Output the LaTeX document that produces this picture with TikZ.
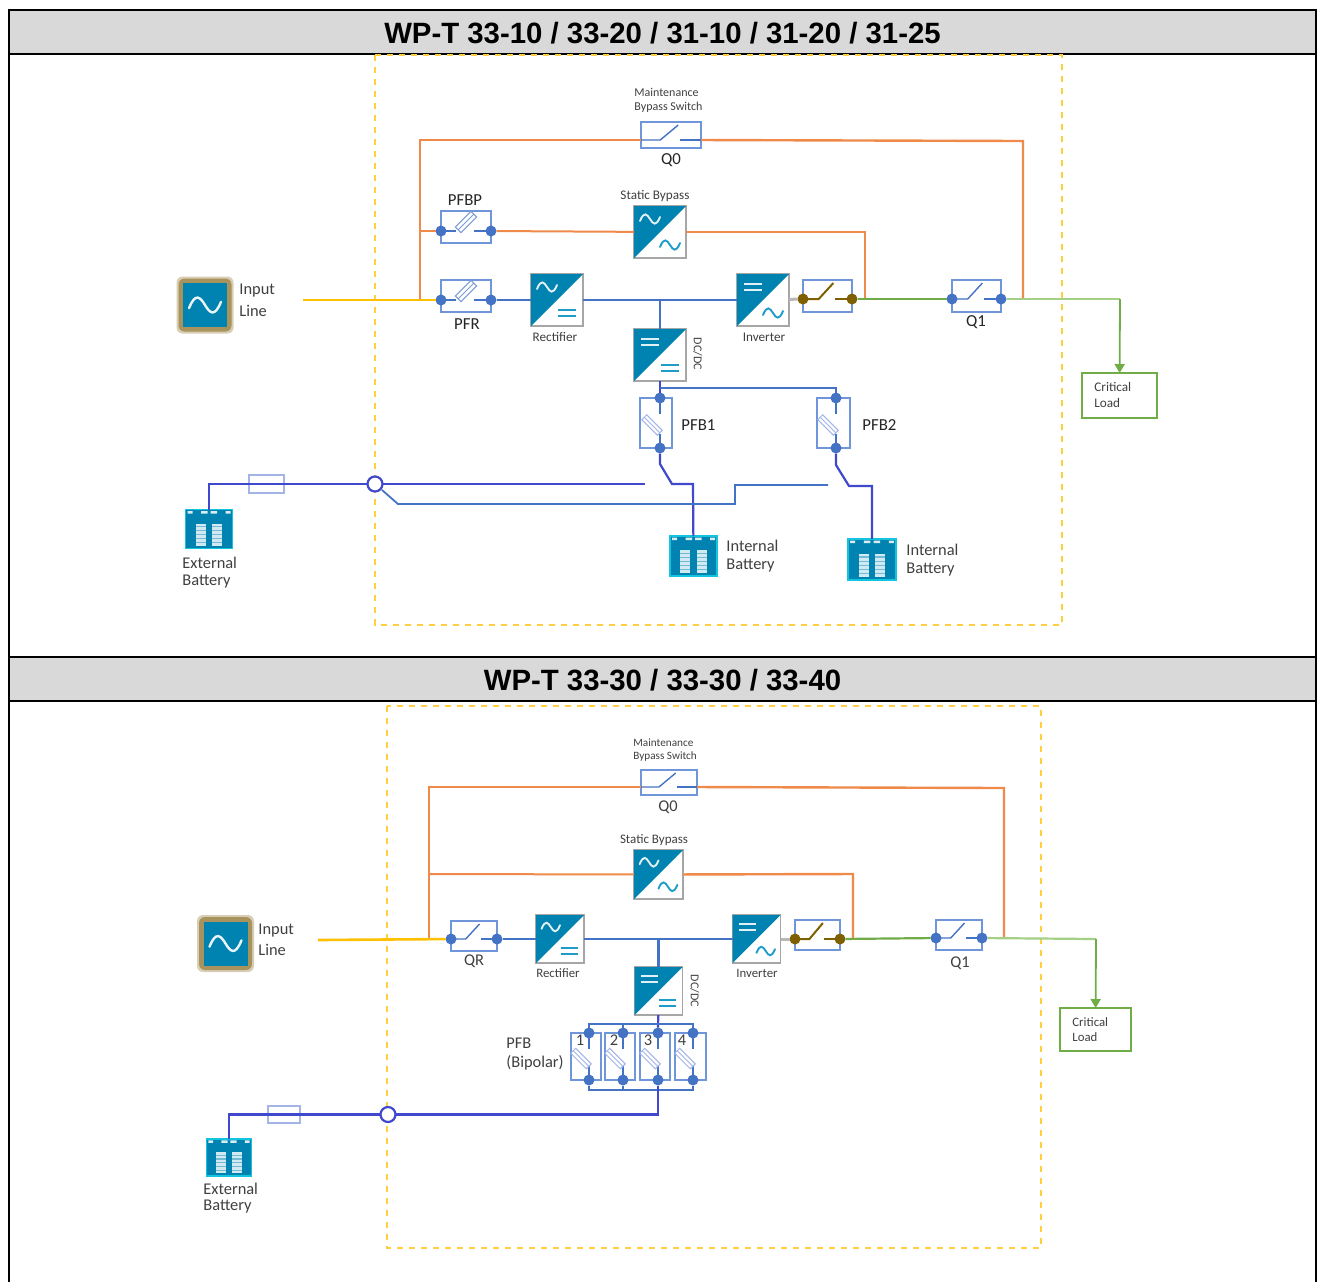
\documentclass[tikz,border=0pt]{standalone}
\usepackage{fontspec}
\setmainfont{Carlito}
\newfontfamily\hdrfont{Liberation Sans}
\usetikzlibrary{arrows.meta,calc}
\definecolor{ubl}{HTML}{0083B0}
\definecolor{ubl2}{HTML}{1F9CC8}
\definecolor{wire}{HTML}{4472C4}
\definecolor{batw}{HTML}{4048CC}
\definecolor{boxc}{HTML}{6F95DB}
\definecolor{fusec}{HTML}{A3B5E8}
\definecolor{orng}{HTML}{EF8A4A}
\definecolor{yel}{HTML}{FFC000}
\definecolor{zonec}{HTML}{FFCF40}
\definecolor{grn}{HTML}{70AD47}
\definecolor{lgrn}{HTML}{A5CF85}
\definecolor{brwn}{HTML}{7F6000}
\definecolor{txt}{HTML}{404040}
\definecolor{hdr}{HTML}{D9D9D9}
\definecolor{tan}{HTML}{A8935C}
\tikzset{
  hdrband/.style={draw=black,line width=0.8pt,fill=hdr,inner sep=0pt,outer sep=0pt},
  title/.style={inner sep=0pt,font=\hdrfont\bfseries\fontsize{14.68}{15}\selectfont,text=black},
  zone/.style={draw=zonec,line width=0.75pt,dash pattern=on 3.2pt off 2.8pt},
  lbl/.style={inner sep=0pt,text=txt,text height=6pt,text depth=2pt,font=\fontsize{8.2}{9}\selectfont},
  lbll/.style={lbl,anchor=west},
  sml/.style={inner sep=0pt,text=txt,text height=4.6pt,text depth=1.4pt,font=\fontsize{6}{7}\selectfont},
  smll/.style={sml,anchor=west},
  dkl/.style={inner sep=0pt,text=black!85,text height=6pt,text depth=2pt,font=\fontsize{8.4}{9}\selectfont},
  dkll/.style={dkl,anchor=west},
  swbox/.style={draw=boxc,line width=0.8pt,inner sep=0pt,outer sep=0pt,fill=white},
  bdot/.style={circle,fill=wire,inner sep=0pt,minimum size=5.5pt,outer sep=0pt},
  hdot/.style={circle,fill=brwn,inner sep=0pt,minimum size=5.5pt,outer sep=0pt},
  nodot/.style={inner sep=0pt,minimum size=0pt,outer sep=0pt},
  blade/.style={line width=0.7pt,draw=wire},
  hblade/.style={line width=1pt,draw=brwn},
  fuseb/.style={line width=0.5pt,draw=fusec},
  cvtbox/.style={draw=black!35,line width=0.7pt,fill=white,inner sep=0pt,outer sep=0pt},
  batbox/.style={draw=ubl2!60!cyan,line width=0.6pt,fill=ubl,inner sep=0pt,outer sep=0pt},
  busw/.style={draw=wire,line width=1.1pt},
  busn/.style={draw=wire,line width=0.9pt},
  batt/.style={draw=batw,line width=1.1pt},
  orw/.style={draw=orng,line width=1.2pt},
  orn/.style={draw=orng,line width=1pt},
  yw/.style={draw=yel,line width=1.3pt},
  gw/.style={draw=grn,line width=1.1pt},
  lgw/.style={draw=lgrn,line width=1.1pt},
  ringn/.style={circle,draw=batw,line width=1.1pt,fill=white,inner sep=0pt,minimum size=7.5pt,outer sep=0pt},
  fusebox/.style={draw=fusec,line width=0.6pt,inner sep=0pt,outer sep=0pt},
  loadbox/.style={draw=grn,line width=0.9pt,fill=white,inner sep=0pt,outer sep=0pt},
  srctan/.style={fill=tan,rounded corners=3pt,inner sep=0pt,outer sep=0pt},
  srcblue/.style={fill=ubl,inner sep=0pt,outer sep=0pt}
}
% symbols in a local frame
\newcommand{\symwave}[3]{\draw[#3,line width=0.95pt,line cap=round,shift={(#1,#2)}] (-10,2) .. controls (-6,-8) and (-3,-5) .. (0,0) .. controls (3,5) and (6,8) .. (10,-2);}
\newcommand{\symeq}[3]{\draw[#3,line width=1.15pt,shift={(#1,#2)}] (-9,-3) -- (9,-3) (-9,3) -- (9,3);}
% converter: name cx cy size top bottom
\newcommand{\cvt}[6]{%
  \node[cvtbox,minimum width={#4*0.5pt},minimum height={#4*0.5pt}] (#1) at (#2,#3) {};
  \begin{scope}[shift={(#2,#3)},scale={#4/52}]
    \fill[ubl] (-26,-26) -- (26,-26) -- (-26,26) -- cycle;
    \csname sym#5\endcsname{-10}{-13}{white!88!ubl}
    \csname sym#6\endcsname{10}{13}{ubl2}
  \end{scope}}
% switch: name x1 y1 x2 y2 wirey dotstyle bladestyle
\newcommand{\swb}[8]{%
  \node[swbox,minimum width={(#4-#2)*0.5pt},minimum height={(#5-#3)*0.5pt}] (#1) at ({(#2+#4)/2},{(#3+#5)/2}) {};
  \node[#7] (#1-l) at (#2,#6) {};
  \node[#7] (#1-r) at (#4,#6) {};
  \draw[#8] (#2,#6) -- ({#2+0.32*(#4-#2)},#6) -- ({#2+0.62*(#4-#2)},#3+3);
  \draw[#8] ({#2+0.65*(#4-#2)},#6) -- (#4,#6);}
% fuse switch horizontal: name x1 y1 x2 y2 wirey
\newcommand{\fsw}[6]{%
  \node[swbox,minimum width={(#4-#2)*0.5pt},minimum height={(#5-#3)*0.5pt}] (#1) at ({(#2+#4)/2},{(#3+#5)/2}) {};
  \node[bdot] (#1-l) at (#2,#6) {};
  \node[bdot] (#1-r) at (#4,#6) {};
  \draw[blade] (#2,#6) -- ({#2+0.30*(#4-#2)},#6);
  \draw[blade] ({#2+0.65*(#4-#2)},#6) -- (#4,#6);
  \begin{scope}[shift={({(#2+#4)/2},{#6-9})},rotate=45]
    \draw[fuseb,draw=wire!70] (-11,-4) rectangle (11,4);
    \draw[fuseb,draw=wire!70] (-11,0) -- (11,0);
  \end{scope}}
% fuse switch vertical: name x1 y1 x2 y2 wirex
\newcommand{\vfsw}[6]{%
  \node[swbox,minimum width={(#4-#2)*0.5pt},minimum height={(#5-#3)*0.5pt}] (#1) at ({(#2+#4)/2},{(#3+#5)/2}) {};
  \node[bdot] (#1-t) at (#6,#3) {};
  \node[bdot] (#1-b) at (#6,#5) {};
  \draw[blade] (#6,#3) -- (#6,#3+16);
  \draw[blade] (#6,#5) -- (#6,#5-14);
  \begin{scope}[shift={(#6-8,{(#3+#5)/2+2})},rotate=-45]
    \draw[fuseb] (-11,-3.5) rectangle (11,3.5);
    \draw[fuseb] (-11,0) -- (11,0);
  \end{scope}}
% battery: name cx cy w h
\newcommand{\bat}[5]{%
  \node[batbox,minimum width={#4*0.5pt},minimum height={#5*0.5pt}] (#1) at (#2,#3) {};
  \begin{scope}[shift={(#2,#3)},xscale={#4/47},yscale={#5/39}]
    \fill[white!85!ubl] (-21.5,-18) rectangle (-16.5,-15.5) (-8,-18) rectangle (-1.5,-15.5) (1.5,-18) rectangle (8,-15.5) (16.5,-18) rectangle (21.5,-15.5);
    \foreach \cx in {-8.2,8.2}{
      \fill[white!45!ubl] (\cx-5,-5.5) rectangle (\cx+5,16.6);
      \foreach \sy in {-5.5,-1.6,2.3,6.2,10.1,14}{
        \fill[white!82!ubl] (\cx-5,\sy) rectangle (\cx+5,\sy+2.6);
      }}
  \end{scope}}
% source: name cx cy
\newcommand{\src}[3]{%
  \node[srctan,opacity=0.45,minimum width=28.5pt,minimum height=28.5pt] (#1-g) at (#2,#3) {};
  \node[srctan,minimum width=26.5pt,minimum height=26.5pt] (#1) at (#2,#3) {};
  \node[srcblue,minimum width=22pt,minimum height=22pt] (#1-i) at (#2,#3) {};
  \begin{scope}[shift={(#2,#3)},scale=1.6]
    \draw[white!92!ubl,line width=1.2pt,line cap=round] (-10,2) .. controls (-6,-8) and (-3,-5) .. (0,0) .. controls (3,5) and (6,8) .. (10,-2);
  \end{scope}}
\begin{document}
\begin{tikzpicture}[x=0.5pt,y=-0.5pt]
\useasboundingbox (0,0) rectangle (1317,1282);
\fill[white] (0,0) rectangle (1317,1282);
% frame
\node[hdrband,minimum width=653.5pt,minimum height=22pt] (hdrA) at (662.5,32) {};
\node[hdrband,minimum width=653.5pt,minimum height=22pt] (hdrB) at (662.5,679) {};
\node[title] (titleA) at (662.5,33) {WP-T 33-10 / 33-20 / 31-10 / 31-20 / 31-25};
\node[title] (titleB) at (662.5,680) {WP-T 33-30 / 33-30 / 33-40};
\coordinate (fl) at (9,1282); \coordinate (fr) at (1316,1282);
\draw[black,line width=0.8pt] (hdrA.north west) -- (fl) (hdrA.north east) -- (fr);
% zones
\draw[zone] (375,55) rectangle (1062,625);
\draw[zone] (387,706) rectangle (1041,1248);

%%%%%%%%%% panel A
\swb{qoa}{641}{122}{701}{148}{140}{nodot}{blade}
\fsw{pfbp}{441}{211}{491}{243}{231}
\fsw{pfr}{441}{280}{491}{312}{300}
\cvt{sba}{660}{232}{52}{wave}{wave}
\cvt{reca}{557}{300}{52}{wave}{eq}
\cvt{inva}{763}{300}{52}{eq}{wave}
\cvt{dca}{660}{355}{52}{eq}{eq}
\swb{ssa}{803}{280}{852}{312}{299}{hdot}{hblade}
\swb{qia}{952}{280}{1001}{312}{299}{bdot}{blade}
\vfsw{pfba}{640}{398}{672}{448}{660}
\vfsw{pfbb}{817}{398}{850}{448}{836}
\bat{batx}{209}{529}{47}{39}
\bat{bati}{693.5}{556}{47}{40}
\bat{batj}{872}{559.5}{48}{41}
\src{srca}{205}{305}
\node[loadbox,minimum width=37.5pt,minimum height=22.5pt] (loada) at (1119.5,395.5) {};
\node[fusebox,minimum width=17.5pt,minimum height=9pt] (fusa) at (266.5,484) {};
\node[ringn] (ringa) at (375,484) {};
\coordinate (ya0) at (303,300);
\coordinate (ja) at (420,300);
\coordinate (jb) at (420,231);
\coordinate (jc) at (420,140);
\coordinate (jd) at (1023,141);
\coordinate (je) at (1023,299);
\coordinate (jf) at (865,232);
\coordinate (jg) at (865,299);
\coordinate (jh) at (1120,299);
\coordinate (ji) at (660,300);
\coordinate (jj) at (660,388);
\coordinate (jk) at (836,388);
\coordinate (ba1) at (209,484);
\coordinate (w1) at (660,464);
\coordinate (w2) at (672,484);
\coordinate (w3) at (693,484);
\coordinate (w4) at (836,465);
\coordinate (w5) at (849,486);
\coordinate (w6) at (872,486);
\coordinate (r1) at (645,484);
\coordinate (r2) at (382,490);
\coordinate (r3) at (398,504);
\coordinate (r4) at (735,504);
\coordinate (r5) at (735,485);
\coordinate (r6) at (828,485);
% wires A
\draw[orw] (ja) -- (jc) -- (qoa-l);
\draw[orw] (qoa-r) -- (jd) -- (je);
\draw[orn] (jb) -- (pfbp-l);
\draw[orn] (pfbp-r) -- (sba);
\draw[orw] (sba) -- (jf) -- (jg);
\draw[yw] (ya0) -- (pfr-l);
\draw[busw] (pfr-r) -- (reca);
\draw[busw] (reca) -- (inva);
\draw[busw] (ji) -- (dca);
\draw[black!28,line width=1.5pt] (inva) -- (ssa-l);
\draw[gw] (ssa-r) -- (qia-l);
\draw[lgw] (qia-r) -- (jh);
\draw[grn,line width=0.9pt,-{Triangle[length=4.5pt,width=5pt]}] (jh) -- (loada);
\draw[batt] (dca) -- (pfba-t);
\draw[busn] (jj) -- (jk) -- (pfbb-t);
\draw[batt] (pfba-b) -- (w1) -- (w2) -- (w3) -- (bati);
\draw[batt] (pfbb-b) -- (w4) -- (w5) -- (w6) -- (batj);
\draw[batt] (batx) -- (ba1) -- (ringa);
\draw[batt] (ringa) -- (r1);
\draw[busn] (r2) -- (r3) -- (r4) -- (r5) -- (r6);
% labels A
\node[smll] (ta1) at (634,93.5) {Maintenance};
\node[smll] (ta2) at (634,107) {Bypass Switch};
\node[dkl] (ta3) at (671,160) {Q0};
\node[dkl] (ta4) at (465,201) {PFBP};
\node[dkl] (ta5) at (467,325) {PFR};
\node[sml,font=\fontsize{6.6}{7}\selectfont] (ta6) at (655,196) {Static Bypass};
\node[sml,font=\fontsize{6.6}{7}\selectfont] (ta7) at (555,338) {Rectifier};
\node[sml,font=\fontsize{6.6}{7}\selectfont] (ta8) at (764,338) {Inverter};
\node[sml,rotate=-90] (ta9) at (697,354) {DC/DC};
\node[dkll] (ta10) at (681,426) {PFB1};
\node[dkll] (ta11) at (862,426) {PFB2};
\node[dkl] (ta12) at (976,322) {Q1};
\node[lbll] (ta13) at (239,290) {Input};
\node[lbll] (ta14) at (239,312) {Line};
\node[sml,anchor=west,font=\fontsize{6.6}{7}\selectfont] (ta15) at (1094,388) {Critical};
\node[sml,anchor=west,font=\fontsize{6.6}{7}\selectfont] (ta16) at (1094,404) {Load};
\node[lbll] (ta17) at (182,564) {External};
\node[lbll] (ta18) at (182,581) {Battery};
\node[lbll] (ta19) at (726,547) {Internal};
\node[lbll] (ta20) at (726,565) {Battery};
\node[lbll] (ta21) at (906,551) {Internal};
\node[lbll] (ta22) at (906,569) {Battery};

%%%%%%%%%% panel B
\swb{qob}{641}{770}{697}{795}{787}{nodot}{blade}
\swb{qrb}{451}{921}{497}{951}{939}{bdot}{blade}
\cvt{sbb}{658.5}{874.5}{49}{wave}{wave}
\cvt{recb}{560}{939}{48}{wave}{eq}
\cvt{invb}{756.5}{939}{48}{eq}{wave}
\cvt{dcb}{658.5}{991}{48}{eq}{eq}
\swb{ssb}{795}{920}{840}{950}{939}{hdot}{hblade}
\swb{qib}{936}{920}{982}{950}{938}{bdot}{blade}
\vfsw{pa}{571}{1033}{601}{1080}{589}
\vfsw{pb}{605}{1033}{635}{1080}{623}
\vfsw{pc}{640}{1033}{670}{1080}{658}
\vfsw{pd}{675}{1033}{706}{1080}{693}
\bat{baty}{229}{1157.5}{45}{37}
\src{srcb}{225.5}{943.5}
\node[loadbox,minimum width=35.5pt,minimum height=21.5pt] (loadb) at (1095.5,1029.5) {};
\node[fusebox,minimum width=16pt,minimum height=8.5pt] (fusb) at (284,1114.5) {};
\node[ringn] (ringb) at (388,1114.5) {};
\coordinate (yb0) at (318,940);
\coordinate (ka) at (429,940);
\coordinate (kb) at (429,874);
\coordinate (kc) at (429,787);
\coordinate (kd) at (1004,788);
\coordinate (ke) at (1004,938);
\coordinate (kf) at (853,874);
\coordinate (kg) at (853,938);
\coordinate (kh) at (1096,939);
\coordinate (ki) at (658.5,939);
\coordinate (tl) at (589,1024);
\coordinate (tm) at (623,1024);
\coordinate (tn) at (658.5,1024);
\coordinate (tr) at (693,1024);
\coordinate (bl) at (589,1090);
\coordinate (bm) at (623,1090);
\coordinate (bn) at (658,1090);
\coordinate (br) at (693,1090);
\coordinate (bo) at (658,1114.5);
\coordinate (bb1) at (229,1114.5);
% wires B
\draw[orw] (ka) -- (kc) -- (qob-l);
\draw[orw] (qob-r) -- (kd) -- (ke);
\draw[orn] (kb) -- (sbb);
\draw[orw] (sbb) -- (kf) -- (kg);
\draw[yw] (yb0) -- (qrb-l);
\draw[busw] (qrb-r) -- (recb);
\draw[busw] (recb) -- (invb);
\draw[busw] (ki) -- (dcb);
\draw[black!28,line width=1.5pt] (invb) -- (ssb-l);
\draw[gw] (ssb-r) -- (qib-l);
\draw[lgw] (qib-r) -- (kh);
\draw[grn,line width=0.9pt,-{Triangle[length=4.5pt,width=5pt]}] (kh) -- (loadb);
\draw[batt] (dcb) -- (pc-t);
\draw[busn] (pa-t) -- (tl) -- (tr) -- (pd-t);
\draw[busn] (tm) -- (pb-t);
\draw[busn] (pa-b) -- (bl) -- (br) -- (pd-b);
\draw[busn] (pb-b) -- (bm);
\draw[batt] (pc-b) -- (bo) -- (ringb);
\draw[batt] (baty) -- (bb1) -- (ringb);
% labels B
\node[sml,anchor=west,font=\fontsize{5.6}{7}\selectfont] (tb1) at (633,743.5) {Maintenance};
\node[sml,anchor=west,font=\fontsize{5.6}{7}\selectfont] (tb2) at (633,756) {Bypass Switch};
\node[lbl] (tb3) at (668,807) {Q0};
\node[sml,font=\fontsize{6.5}{7}\selectfont] (tb4) at (654,840) {Static Bypass};
\node[lbl] (tb5) at (474,961) {QR};
\node[sml,font=\fontsize{6.4}{7}\selectfont] (tb6) at (558,974) {Rectifier};
\node[sml,font=\fontsize{6.4}{7}\selectfont] (tb7) at (757,974) {Inverter};
\node[sml,rotate=-90] (tb8) at (694,991) {DC/DC};
\node[lbll] (tb9) at (506,1044) {PFB};
\node[lbll] (tb10) at (506,1063) {(Bipolar)};
\node[lbl] (tb11) at (580,1041) {1};
\node[lbl] (tb12) at (614,1041) {2};
\node[lbl] (tb13) at (648,1041) {3};
\node[lbl] (tb14) at (682,1041) {4};
\node[lbl] (tb15) at (960,963) {Q1};
\node[lbll] (tb16) at (258,930) {Input};
\node[lbll] (tb17) at (258,951) {Line};
\node[sml,anchor=west,font=\fontsize{6.4}{7}\selectfont] (tb18) at (1072,1023) {Critical};
\node[sml,anchor=west,font=\fontsize{6.4}{7}\selectfont] (tb19) at (1072,1038) {Load};
\node[lbll] (tb20) at (203,1190) {External};
\node[lbll] (tb21) at (203,1206) {Battery};
\end{tikzpicture}
\end{document}
